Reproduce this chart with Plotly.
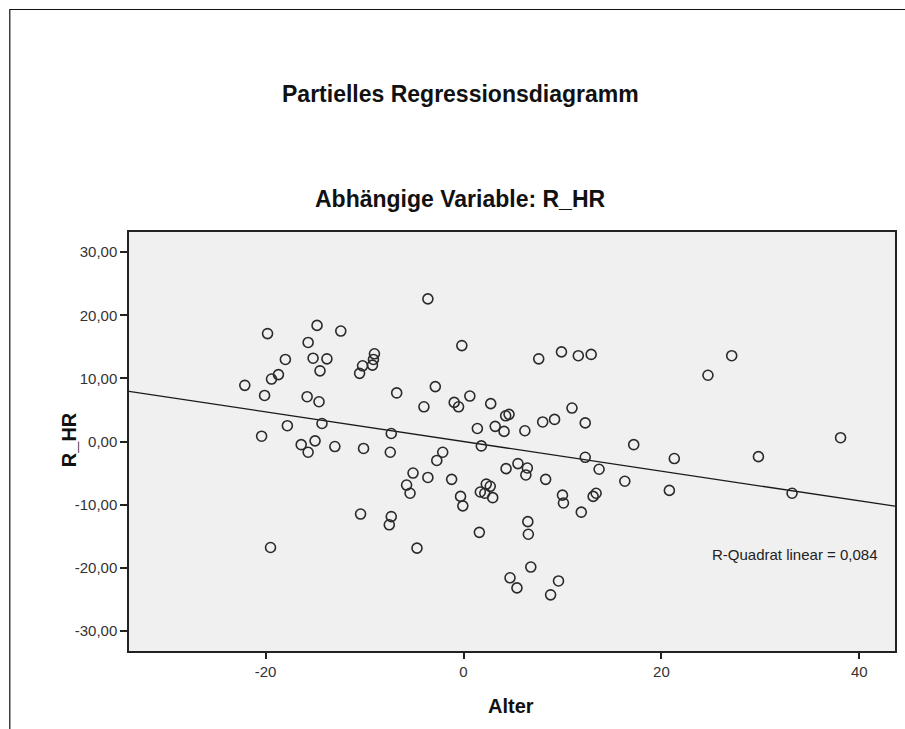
import plotly.graph_objects as go

# ---- data ----
alter = [-22.1, -20.4, -20.1, -19.8, -19.5, -19.4, -18.7, -18.0, -17.8, -16.4,
         -15.8, -15.7, -15.7, -15.2, -15.0, -14.8, -14.6, -14.5, -14.3, -13.8,
         -13.0, -12.4, -10.5, -10.4, -10.2, -10.1, -9.2, -9.1, -9.0, -7.5,
         -7.4, -7.3, -7.3, -6.75, -5.75, -5.4, -5.1, -4.7, -4.0, -3.6,
         -3.6, -2.85, -2.7, -2.1, -1.2, -0.94, -0.5, -0.3, -0.17, -0.07,
         0.64, 1.4, 1.6, 1.7, 1.8, 2.15, 2.3, 2.7, 2.75, 2.95,
         3.2, 4.1, 4.26, 4.3, 4.6, 4.7, 5.4, 5.5, 6.2, 6.3,
         6.45, 6.5, 6.55, 6.8, 7.6, 8.0, 8.3, 8.8, 9.2, 9.6,
         9.9, 10.0, 10.1, 10.96, 11.6, 11.9, 12.3, 12.3, 12.9, 13.1,
         13.4, 13.7, 16.3, 17.2, 20.8, 21.3, 24.7, 27.1, 29.8, 33.2,
         38.1]
r_hr = [8.9, 0.84, 7.3, 17.1, -16.8, 9.9, 10.6, 13.0, 2.5, -0.5,
        7.1, 15.7, -1.7, 13.2, 0.1, 18.4, 6.3, 11.2, 2.85, 13.1,
        -0.8, 17.5, 10.8, -11.5, 12.0, -1.1, 12.1, 13.0, 13.9, -13.2,
        -1.7, 1.27, -11.9, 7.7, -6.9, -8.2, -5.0, -16.9, 5.5, 22.6,
        -5.7, 8.7, -3.0, -1.7, -6.0, 6.2, 5.5, -8.7, 15.2, -10.2,
        7.2, 2.06, -14.4, -8.0, -0.7, -8.2, -6.75, -7.1, 6.0, -8.9,
        2.4, 1.6, 4.07, -4.3, 4.3, -21.6, -23.2, -3.5, 1.7, -5.3,
        -4.2, -12.7, -14.7, -19.9, 13.1, 3.1, -6.0, -24.3, 3.5, -22.1,
        14.2, -8.5, -9.75, 5.3, 13.6, -11.2, 2.95, -2.5, 13.8, -8.7,
        -8.2, -4.4, -6.3, -0.5, -7.75, -2.7, 10.5, 13.6, -2.4, -8.2,
        0.6]

fit_x = [-33.8, 43.6]
fit_y = [7.94, -10.25]

y_ticks = [-30, -20, -10, 0, 10, 20, 30]
y_ticktext = ["-30,00", "-20,00", "-10,00", "0,00", "10,00", "20,00", "30,00"]
x_ticks = [-20, 0, 20, 40]
x_ticktext = ["-20", "0", "20", "40"]

title_text = "Partielles Regressionsdiagramm"
subtitle_text = "Abhängige Variable: R_HR"
x_title = "Alter"
y_title = "R_HR"
r2_text = "R-Quadrat linear = 0,084"

# ---- layout geometry (pixels) ----
W, H = 905, 729
L, R, T, B = 129, 897, 232, 651
pw, ph = R - L, B - T

def px(x):
    return (x - L) / pw

def py(y):
    return (B - y) / ph

font_fam = "Liberation Sans, Arial, sans-serif"

fig = go.Figure()
fig.add_trace(go.Scatter(
    x=fit_x, y=fit_y, mode="lines",
    line=dict(color="#1a1a1a", width=1.3),
    hoverinfo="skip", showlegend=False))
fig.add_trace(go.Scatter(
    x=alter, y=r_hr, mode="markers",
    marker=dict(symbol="circle-open", size=10, color="#2a2a2a",
                line=dict(width=1.6, color="#2a2a2a")),
    showlegend=False))

fig.update_layout(
    width=W, height=H,
    margin=dict(l=L, r=W - R, t=T, b=H - B),
    paper_bgcolor="white",
    plot_bgcolor="#f0f0f0",
    font=dict(family=font_fam, color="#222"),
    xaxis=dict(range=[fit_x[0], fit_x[1]], tickvals=x_ticks, ticktext=x_ticktext,
               ticks="outside", ticklen=6, tickwidth=1.5, tickcolor="#222",
               showline=True, linecolor="#222", linewidth=1.5, mirror=True,
               showgrid=False, zeroline=False,
               tickfont=dict(size=15, color="#333")),
    yaxis=dict(range=[-33.2, 33.2], tickvals=y_ticks, ticktext=y_ticktext,
               ticks="outside", ticklen=7, tickwidth=1.5, tickcolor="#222",
               showline=True, linecolor="#222", linewidth=1.5, mirror=True,
               showgrid=False, zeroline=False,
               tickfont=dict(size=15, color="#333")),
    annotations=[
        dict(text="<b>" + title_text + "</b>", x=px(461), y=py(94), xref="paper", yref="paper",
             xanchor="center", yanchor="middle", showarrow=False,
             font=dict(size=23, color="#111")),
        dict(text="<b>" + subtitle_text + "</b>", x=px(461), y=py(199), xref="paper", yref="paper",
             xanchor="center", yanchor="middle", showarrow=False,
             font=dict(size=23, color="#111")),
        dict(text="<b>" + x_title + "</b>", x=px(512), y=py(706), xref="paper", yref="paper",
             xanchor="center", yanchor="middle", showarrow=False,
             font=dict(size=20, color="#111")),
        dict(text="<b>" + y_title + "</b>", x=px(69), y=py(440), xref="paper", yref="paper",
             xanchor="center", yanchor="middle", showarrow=False, textangle=-90,
             font=dict(size=20, color="#111")),
        dict(text=r2_text, x=px(882), y=py(554), xref="paper", yref="paper",
             xanchor="right", yanchor="middle", showarrow=False,
             font=dict(size=15, color="#222")),
    ],
    shapes=[
        dict(type="path", xref="paper", yref="paper",
             path=f"M {px(9.5)},{py(740)} L {px(9.5)},{py(9.5)} L {px(910)},{py(9.5)}",
             line=dict(color="#111", width=1.2)),
    ],
)

fig.write_html("out.html")
